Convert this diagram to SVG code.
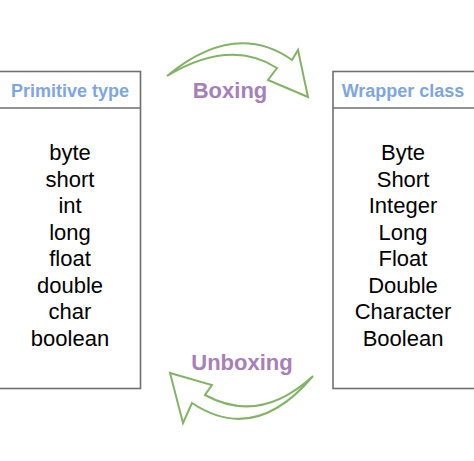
<svg xmlns="http://www.w3.org/2000/svg" width="474" height="461" viewBox="0 0 474 461">
<style>
.box{fill:#ffffff;stroke:#707070;stroke-width:1.6}
.hdr{font-family:"Liberation Sans",Arial,sans-serif;font-size:18px;font-weight:bold;fill:#7ea6e0;text-anchor:middle}
.item{font-family:"Liberation Sans",Arial,sans-serif;font-size:22px;fill:#000000;text-anchor:middle}
.lbl{font-family:"Liberation Sans",Arial,sans-serif;font-size:22px;font-weight:bold;fill:#a680b8;text-anchor:middle}
.arr{fill:#ffffff;stroke:#82b366;stroke-width:2;stroke-linejoin:miter}
</style>
<rect width="474" height="461" fill="#ffffff"/>
<g id="primitive">
<rect class="box" x="-2" y="71.5" width="142.5" height="317"/>
<line class="box" x1="-2" y1="108" x2="140.5" y2="108"/>
<text class="hdr" x="70" y="96.5">Primitive type</text>
<text class="item" x="70" y="160">byte</text>
<text class="item" x="70" y="186.5">short</text>
<text class="item" x="70" y="213">int</text>
<text class="item" x="70" y="239.5">long</text>
<text class="item" x="70" y="266">float</text>
<text class="item" x="70" y="292.5">double</text>
<text class="item" x="70" y="319">char</text>
<text class="item" x="70" y="345.5">boolean</text>
</g>
<g id="wrapper">
<rect class="box" x="333" y="71.5" width="145" height="317"/>
<line class="box" x1="333" y1="108" x2="478" y2="108"/>
<text class="hdr" x="403" y="96.5">Wrapper class</text>
<text class="item" x="403" y="160">Byte</text>
<text class="item" x="403" y="186.5">Short</text>
<text class="item" x="403" y="213">Integer</text>
<text class="item" x="403" y="239.5">Long</text>
<text class="item" x="403" y="266">Float</text>
<text class="item" x="403" y="292.5">Double</text>
<text class="item" x="403" y="319">Character</text>
<text class="item" x="403" y="345.5">Boolean</text>
</g>
<g id="connectors">
<path id="boxing-arrow" class="arr" d="M167,76 Q235,20 292,60 L298,50 L308,97 L268,80 L277,68 Q230,38 167,76 Z"/>
<path id="unboxing-arrow" class="arr" d="M313,376 Q260,425 205,395 L212,385 L170,373 L183,423 L192,403 Q255,445 313,376 Z"/>
<text class="lbl" x="230" y="98">Boxing</text>
<text class="lbl" x="242" y="370">Unboxing</text>
</g>
</svg>
